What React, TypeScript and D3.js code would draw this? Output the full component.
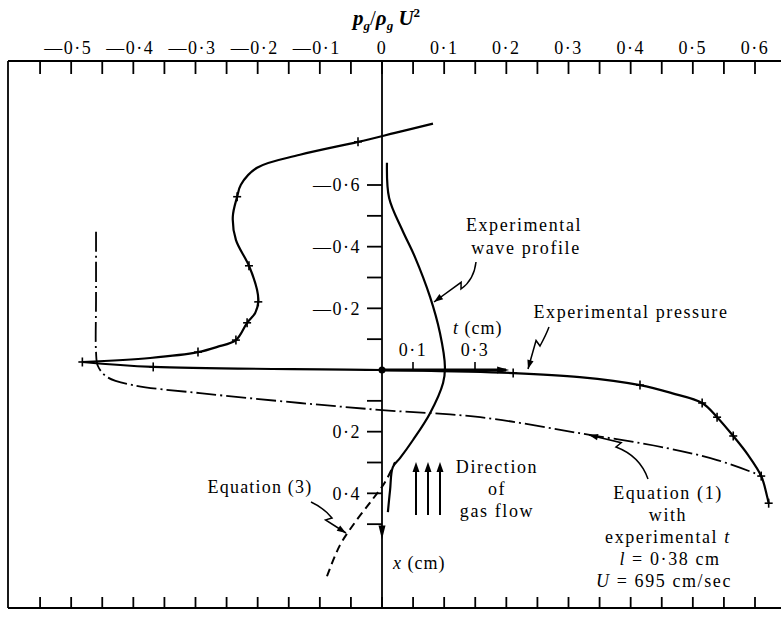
import React from "react";
import * as d3 from "d3";

const W = 781;
const H = 619;

// ---- axis data ----
const pTickValues = [-0.55, -0.5, -0.45, -0.4, -0.35, -0.3, -0.25, -0.2, -0.15, -0.1, -0.05, 0, 0.05, 0.1, 0.15, 0.2, 0.25, 0.3, 0.35, 0.4, 0.45, 0.5, 0.55, 0.6];
const pLabelValues = [-0.5, -0.4, -0.3, -0.2, -0.1, 0, 0.1, 0.2, 0.3, 0.4, 0.5, 0.6];
const pLabelTexts = ["—0·5", "—0·4", "—0·3", "—0·2", "—0·1", "0", "0·1", "0·2", "0·3", "0·4", "0·5", "0·6"];

const xTickValues = [-0.6, -0.5, -0.4, -0.3, -0.2, -0.1, 0.1, 0.2, 0.3, 0.4, 0.5];
const xLabelValues = [-0.6, -0.4, -0.2, 0.2, 0.4];
const xLabelTexts = ["—0·6", "—0·4", "—0·2", "0·2", "0·4"];

const tTickValues = [0.1, 0.3];
const tLabelTexts = ["0·1", "0·3"];

// ---- experimental pressure (p_g/rho_g U^2 vs x cm) ----
const pressUpperP = [0.082, 0.021, -0.0386, -0.132, -0.201, -0.227, -0.233, -0.24, -0.235, -0.214, -0.201, -0.199, -0.204, -0.217, -0.235, -0.265, -0.296, -0.373, -0.482];
const pressUpperX = [-0.799, -0.769, -0.74, -0.698, -0.656, -0.601, -0.562, -0.497, -0.422, -0.338, -0.26, -0.221, -0.185, -0.153, -0.097, -0.075, -0.058, -0.039, -0.026];
const pressLowerP = [-0.482, -0.368, 0, 0.211, 0.318, 0.415, 0.466, 0.515, 0.539, 0.565, 0.589, 0.61, 0.619, 0.622];
const pressLowerX = [-0.026, -0.01, 0, 0.01, 0.023, 0.049, 0.075, 0.107, 0.153, 0.214, 0.276, 0.344, 0.406, 0.432];
const pressMarkP = [-0.0386, -0.233, -0.214, -0.199, -0.217, -0.235, -0.296, -0.482, -0.368, 0.211, 0.415, 0.515, 0.539, 0.565, 0.61, 0.622];
const pressMarkX = [-0.74, -0.562, -0.338, -0.221, -0.153, -0.097, -0.058, -0.026, -0.01, 0.01, 0.049, 0.107, 0.153, 0.214, 0.344, 0.432];

// ---- experimental wave profile (t cm vs x cm) ----
const waveT = [0.016, 0.023, 0.065, 0.106, 0.155, 0.187, 0.203, 0.197, 0.155, 0.1, 0.058, 0.035, 0.026, 0.019];
const waveX = [-0.672, -0.558, -0.455, -0.367, -0.237, -0.12, -0.01, 0.042, 0.14, 0.227, 0.286, 0.315, 0.39, 0.461];

// ---- equation (1) with experimental t ----
const eq1P = [-0.46, -0.46, -0.46, -0.457, -0.442, -0.401, -0.293, -0.132, 0, 0.158, 0.318, 0.458, 0.539, 0.608];
const eq1X = [-0.448, -0.227, -0.058, -0.013, 0.023, 0.049, 0.075, 0.107, 0.13, 0.153, 0.205, 0.253, 0.292, 0.341];

// ---- equation (3) ----
const eq3P = [-0.0885, -0.0676, -0.0434, -0.0161, 0.0048, 0.0209];
const eq3X = [0.669, 0.568, 0.494, 0.422, 0.364, 0.299];

// ---- scales ----
const pScale = d3.scaleLinear().domain([0, 0.6]).range([382, 755]);
const xScale = d3.scaleLinear().domain([-0.6, 0]).range([185, 370]);
const tScale = d3.scaleLinear().domain([0, 0.3]).range([382, 475]);

const FONT = "'Liberation Serif', 'Times New Roman', 'DejaVu Serif', serif";

type Pt = [number, number];

function arrowHead(tip: Pt, from: Pt, len = 9, half = 3.2) {
  const dx = tip[0] - from[0];
  const dy = tip[1] - from[1];
  const L = Math.hypot(dx, dy) || 1;
  const ux = dx / L, uy = dy / L;
  const nx = -uy, ny = ux;
  const bx = tip[0] - ux * len, by = tip[1] - uy * len;
  return `M${tip[0]},${tip[1]}L${bx + nx * half},${by + ny * half}L${bx - nx * half},${by - ny * half}Z`;
}

function leaderPath(S: Pt, C: Pt, M: Pt, E: Pt) {
  const dx = E[0] - M[0], dy = E[1] - M[1];
  const L = Math.hypot(dx, dy) || 1;
  const ux = dx / L, uy = dy / L;
  const nx = -uy, ny = ux;
  const Z: Pt = [M[0] - ux * 3 + nx * 6, M[1] - uy * 3 + ny * 6];
  return {
    d: `M${S[0]},${S[1]}Q${C[0]},${C[1]} ${M[0]},${M[1]}L${Z[0]},${Z[1]}L${E[0]},${E[1]}`,
    head: arrowHead(E, Z),
  };
}

const Cross = ({ x, y }: { x: number; y: number }) => (
  <g stroke="#000" strokeWidth={1.6}>
    <line x1={x - 4} x2={x + 4} y1={y} y2={y} />
    <line x1={x} x2={x} y1={y - 4.5} y2={y + 4.5} />
  </g>
);

export default function App() {
  const curve = d3.curveCatmullRom.alpha(0.5);
  const lineP = d3.line<[number, number]>().x((d) => pScale(d[0])).y((d) => xScale(d[1])).curve(curve);
  const lineT = d3.line<[number, number]>().x((d) => tScale(d[0])).y((d) => xScale(d[1])).curve(curve);

  const zip = (a: number[], b: number[]) => a.map((v, i) => [v, b[i]] as [number, number]);

  const leaders = [
    leaderPath([476, 262], [474, 280], [461, 289], [434, 302]),
    leaderPath([549, 327], [546, 335], [540, 346], [528, 369]),
    leaderPath([311, 502], [324, 508], [332, 518], [346, 533]),
    leaderPath([648, 479], [640, 456], [616, 447], [589, 435]),
  ];

  const axisTop = 61;
  const axisBottom = 608;
  const x0 = pScale(0);
  const y0 = xScale(0);

  return (
    <svg width={W} height={H} style={{ position: "absolute", left: 0, top: 0, display: "block", background: "#fff" }} fontFamily={FONT}>
      <rect x={0} y={0} width={W} height={H} fill="#fff" />
      {/* title */}
      <text x={353} y={25} fontSize={21} fill="#000" fontStyle="italic" fontWeight="bold">
        <tspan>p</tspan>
        <tspan fontSize={13} dy={5}>g</tspan>
        <tspan dy={-5} fontWeight="normal" fontStyle="normal">/</tspan>
        <tspan>ρ</tspan>
        <tspan fontSize={13} dy={5}>g</tspan>
        <tspan dy={-5}> U</tspan>
        <tspan fontSize={13} dy={-8} fontStyle="normal">2</tspan>
      </text>

      {/* frame */}
      <g stroke="#000" strokeWidth={1.8} fill="none">
        <line x1={8} x2={W} y1={axisTop} y2={axisTop} />
        <line x1={8} x2={W} y1={axisBottom} y2={axisBottom} />
        <line x1={8} x2={8} y1={axisTop} y2={axisBottom} />
        {pTickValues.map((v) => (
          <g key={"pt" + v}>
            <line x1={pScale(v)} x2={pScale(v)} y1={axisTop} y2={axisTop + 13} />
            <line x1={pScale(v)} x2={pScale(v)} y1={axisBottom} y2={axisBottom - 11} />
          </g>
        ))}
      </g>
      {pLabelValues.map((v, i) => (
        <text key={"pl" + v} x={pScale(v) + (v < 0 ? -3 : 0)} y={54} fontSize={18} letterSpacing={1.5} textAnchor="middle" fill="#000">
          {pLabelTexts[i]}
        </text>
      ))}

      {/* vertical x (cm) axis */}
      <g stroke="#000" strokeWidth={1.8}>
        <line x1={x0} x2={x0} y1={axisTop} y2={axisBottom} />
        {xTickValues.map((v) => (
          <line key={"xt" + v} x1={x0 - 15} x2={x0} y1={xScale(v)} y2={xScale(v)} />
        ))}
      </g>
      <path d={arrowHead([x0, xScale(0.55)], [x0, xScale(0.4)], 14, 3.5)} fill="#000" />
      {xLabelValues.map((v, i) => (
        <text key={"xl" + v} x={361} y={xScale(v)} dy="0.35em" fontSize={18} letterSpacing={1.5} textAnchor="end" fill="#000">
          {xLabelTexts[i]}
        </text>
      ))}
      <text x={393} y={569} fontSize={18} letterSpacing={1} fill="#000">
        <tspan fontStyle="italic">x</tspan> (cm)
      </text>

      {/* t axis */}
      <line x1={x0} x2={tScale(0.4)} y1={y0} y2={y0} stroke="#000" strokeWidth={3} />
      <path d={arrowHead([tScale(0.41), y0], [tScale(0.3), y0], 12, 3.5)} fill="#000" />
      {tTickValues.map((v, i) => (
        <g key={"tt" + v}>
          <line x1={tScale(v)} x2={tScale(v)} y1={y0} y2={y0 - 8} stroke="#000" strokeWidth={1.6} />
          <text x={tScale(v)} y={356} fontSize={18} letterSpacing={1.5} textAnchor="middle" fill="#000">
            {tLabelTexts[i]}
          </text>
        </g>
      ))}
      <circle cx={x0} cy={y0} r={3.5} fill="#000" />
      <text x={453} y={334} fontSize={18} letterSpacing={1} fill="#000">
        <tspan fontStyle="italic">t</tspan> (cm)
      </text>

      {/* curves */}
      <g fill="none" stroke="#000">
        <path d={lineP(zip(pressUpperP, pressUpperX)) || ""} strokeWidth={2.2} />
        <path d={lineP(zip(pressLowerP, pressLowerX)) || ""} strokeWidth={2.2} />
        <path d={lineT(zip(waveT, waveX)) || ""} strokeWidth={2.2} />
        <path d={lineP(zip(eq1P, eq1X)) || ""} strokeWidth={1.8} strokeDasharray="20,4,2,4" />
        <path d={lineP(zip(eq3P, eq3X)) || ""} strokeWidth={2} strokeDasharray="8,5" />
      </g>
      {pressMarkP.map((p, i) => (
        <Cross key={"m" + i} x={pScale(p)} y={xScale(pressMarkX[i])} />
      ))}

      {/* gas flow arrows */}
      {[416, 428, 440].map((ax) => (
        <g key={"ga" + ax}>
          <line x1={ax} x2={ax} y1={515} y2={470} stroke="#000" strokeWidth={2} />
          <path d={arrowHead([ax, 462], [ax, 480], 10, 3.5)} fill="#000" />
        </g>
      ))}

      {/* leaders */}
      {leaders.map((l, i) => (
        <g key={"ld" + i}>
          <path d={l.d} fill="none" stroke="#000" strokeWidth={1.5} />
          <path d={l.head} fill="#000" />
        </g>
      ))}

      {/* annotations */}
      <g fontSize={18} letterSpacing={1.6} fill="#000" textAnchor="middle">
        <text x={524} y={231}>Experimental</text>
        <text x={526} y={254}>wave profile</text>
        <text x={631} y={318}>Experimental pressure</text>
        <text x={260} y={493} letterSpacing={1.2}>Equation (3)</text>
        <text x={497} y={473}>Direction</text>
        <text x={497} y={495}>of</text>
        <text x={497} y={517}>gas flow</text>
        <text x={668} y={499}>Equation (1)</text>
        <text x={668} y={521}>with</text>
        <text x={668} y={543}>experimental <tspan fontStyle="italic">t</tspan></text>
        <text x={670} y={565}><tspan fontStyle="italic">l</tspan> = 0·38 cm</text>
        <text x={664} y={587}><tspan fontStyle="italic">U</tspan> = 695 cm/sec</text>
      </g>
    </svg>
  );
}
